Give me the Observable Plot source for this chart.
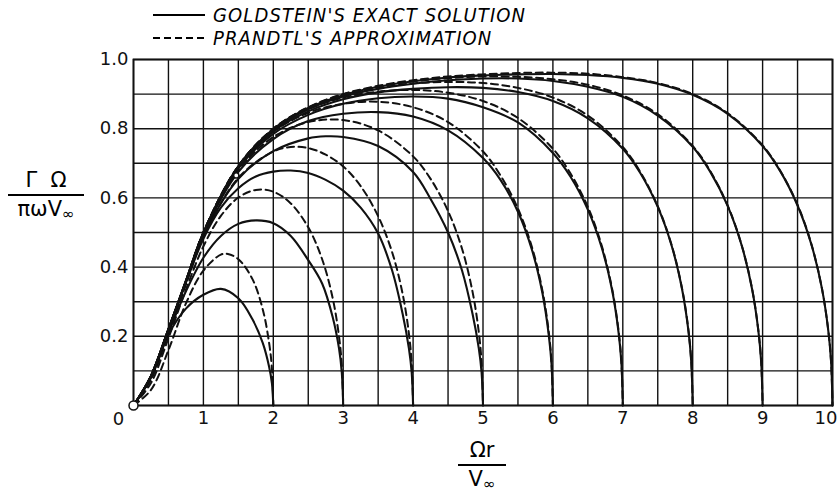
<!DOCTYPE html>
<html>
<head>
<meta charset="utf-8">
<script src="https://cdn.jsdelivr.net/npm/d3@7"></script>
<script src="https://cdn.jsdelivr.net/npm/@observablehq/plot@0.6"></script>
<style>
  html, body { margin: 0; padding: 0; background: #fff; }
  #fig { position: relative; width: 838px; height: 492px; overflow: hidden; font-family: "DejaVu Sans", "Liberation Sans", sans-serif; color: #000; background: #fff; }
  #chart { position: absolute; left: 0; top: 36px; }
  #legend { position: absolute; left: 0; top: 0; width: 838px; height: 50px; z-index: 2; }
  .key { position: absolute; left: 153px; height: 22px; display: flex; align-items: center; }
  .key span { margin-left: 8px; font-family: "Liberation Sans Narrow", "DejaVu Sans Condensed", sans-serif; font-style: italic; font-size: 20px; letter-spacing: 1.1px; }
  .frac { position: absolute; text-align: center; font-size: 21px; line-height: 1; z-index: 2; }
  .frac .num { display: block; padding-bottom: 3px; border-bottom: 2px solid #000; }
  .frac .den { display: block; padding-top: 3px; }
  .frac sub { font-size: 15px; vertical-align: -3px; }
</style>
</head>
<body>
<div id="fig">
  <div id="chart"></div>
  <div id="legend">
    <div class="key" style="top:4px">
      <svg width="52" height="6"><line x1="0" y1="3" x2="52" y2="3" stroke="#000" stroke-width="2.2"/></svg>
      <span>GOLDSTEIN'S EXACT SOLUTION</span>
    </div>
    <div class="key" style="top:27px">
      <svg width="52" height="6"><line x1="0" y1="3" x2="52" y2="3" stroke="#000" stroke-width="2" stroke-dasharray="7,4"/></svg>
      <span>PRANDTL'S APPROXIMATION</span>
    </div>
  </div>
  <div class="frac" style="left:8px; top:170px; width:76px;">
    <span class="num">Γ&nbsp;&nbsp;Ω</span>
    <span class="den">πωV<sub>∞</sub></span>
  </div>
  <div class="frac" style="left:458px; top:440px; width:48px;">
    <span class="num">Ωr</span>
    <span class="den">V<sub>∞</sub></span>
  </div>
</div>
<script>
// Tip speed ratios ΩR/V∞ of the curves
const tipRatios = [2, 3, 4, 5, 6, 7, 8, 9, 10];

// Goldstein's exact circulation, [Ωr/V∞, ΓΩ/(πωV∞)]
const goldstein2 = [[0,0],[0.25,0.082],[0.5,0.205],[0.75,0.28],[1,0.32],[1.25,0.337],[1.5,0.31],[1.7,0.25],[1.85,0.18],[1.94,0.112],[1.98,0.065],[2,0]];
const goldstein3 = [[0,0],[0.25,0.08],[0.5,0.21],[0.75,0.33],[1,0.427],[1.25,0.49],[1.5,0.525],[1.75,0.535],[2,0.527],[2.25,0.49],[2.5,0.42],[2.7,0.352],[2.85,0.255],[2.94,0.165],[2.98,0.095],[3,0]];
const goldstein4 = [[0,0],[0.25,0.085],[0.5,0.22],[0.75,0.355],[1,0.482],[1.25,0.572],[1.5,0.628],[1.75,0.662],[2,0.676],[2.25,0.679],[2.5,0.672],[2.75,0.652],[3,0.621],[3.25,0.572],[3.5,0.497],[3.7,0.39],[3.85,0.265],[3.94,0.165],[3.98,0.095],[4,0]];
const goldstein5 = [[0,0],[0.25,0.085],[0.5,0.22],[0.75,0.357],[1,0.49],[1.5,0.655],[2,0.735],[2.5,0.772],[2.75,0.778],[3,0.776],[3.5,0.75],[4,0.675],[4.25,0.597],[4.5,0.5],[4.7,0.39],[4.85,0.265],[4.94,0.165],[4.98,0.095],[5,0]];
const goldstein6 = [[0,0],[0.25,0.085],[0.5,0.22],[0.75,0.358],[1,0.495],[1.5,0.675],[2,0.77],[2.5,0.822],[3,0.843],[3.5,0.848],[4,0.835],[4.5,0.795],[5,0.715],[5.25,0.652],[5.5,0.56],[5.7,0.45],[5.85,0.325],[5.94,0.205],[5.98,0.12],[6,0]];
const goldstein7 = [[0,0],[0.25,0.085],[0.5,0.22],[0.75,0.359],[1,0.497],[1.5,0.685],[2,0.785],[2.5,0.84],[3,0.872],[3.5,0.888],[4,0.893],[4.5,0.887],[5,0.862],[5.5,0.818],[6,0.73],[6.25,0.662],[6.5,0.566],[6.7,0.455],[6.85,0.33],[6.94,0.21],[6.98,0.123],[7,0]];
const goldstein8 = [[0,0],[0.25,0.085],[0.5,0.22],[0.75,0.36],[1,0.498],[1.5,0.688],[2,0.792],[2.5,0.85],[3,0.885],[3.5,0.905],[4,0.915],[4.5,0.92],[5,0.918],[5.5,0.906],[6,0.88],[6.5,0.83],[7,0.742],[7.25,0.672],[7.5,0.574],[7.7,0.461],[7.85,0.334],[7.94,0.214],[7.98,0.124],[8,0]];
const goldstein9 = [[0,0],[0.25,0.085],[0.5,0.22],[0.75,0.36],[1,0.499],[1.5,0.69],[2,0.796],[2.5,0.856],[3,0.893],[3.5,0.915],[4,0.93],[4.5,0.94],[5,0.945],[5.5,0.945],[6,0.938],[6.5,0.921],[7,0.892],[7.5,0.838],[8,0.748],[8.25,0.676],[8.5,0.577],[8.7,0.463],[8.85,0.336],[8.94,0.215],[8.98,0.125],[9,0]];
const goldstein10 = [[0,0],[0.25,0.085],[0.5,0.22],[0.75,0.36],[1,0.5],[1.5,0.692],[2,0.799],[2.5,0.86],[3,0.897],[3.5,0.921],[4,0.937],[4.5,0.948],[5,0.954],[5.5,0.957],[6,0.958],[6.5,0.955],[7,0.947],[7.5,0.93],[8,0.898],[8.5,0.843],[9,0.75],[9.25,0.678],[9.5,0.578],[9.7,0.464],[9.85,0.337],[9.94,0.216],[9.98,0.126],[10,0]];

// Prandtl's tip-loss approximation, same axes
const prandtl2 = [[0,0],[0.25,0.045],[0.5,0.16],[0.75,0.295],[1,0.39],[1.25,0.436],[1.35,0.438],[1.5,0.423],[1.7,0.366],[1.85,0.277],[1.94,0.181],[1.98,0.107],[2,0]];
const prandtl3 = [[0,0],[0.25,0.065],[0.5,0.195],[0.75,0.335],[1,0.46],[1.25,0.548],[1.5,0.601],[1.75,0.623],[2,0.618],[2.25,0.584],[2.5,0.515],[2.7,0.422],[2.85,0.31],[2.94,0.2],[2.98,0.117],[3,0]];
const prandtl4 = [[0,0],[0.25,0.075],[0.5,0.21],[0.75,0.35],[1,0.486],[1.5,0.658],[2,0.734],[2.25,0.747],[2.5,0.744],[2.75,0.725],[3,0.691],[3.25,0.634],[3.5,0.547],[3.7,0.443],[3.85,0.323],[3.94,0.208],[3.98,0.121],[4,0]];
const prandtl5 = [[0,0],[0.25,0.08],[0.5,0.215],[0.75,0.355],[1,0.495],[1.5,0.68],[2,0.776],[2.5,0.819],[3,0.825],[3.5,0.795],[4,0.72],[4.25,0.655],[4.5,0.562],[4.7,0.453],[4.85,0.329],[4.94,0.212],[4.98,0.123],[5,0]];
const prandtl6 = [[0,0],[0.25,0.08],[0.5,0.215],[0.75,0.357],[1,0.498],[1.5,0.687],[2,0.791],[2.5,0.846],[3,0.872],[3.5,0.878],[4,0.862],[4.5,0.819],[5,0.734],[5.25,0.665],[5.5,0.569],[5.7,0.458],[5.85,0.332],[5.94,0.214],[5.98,0.124],[6,0]];
const prandtl7 = [[0,0],[0.25,0.08],[0.5,0.215],[0.75,0.358],[1,0.499],[1.5,0.691],[2,0.797],[2.5,0.856],[3,0.89],[3.5,0.907],[4,0.912],[4.5,0.904],[5,0.88],[5.5,0.831],[6,0.742],[6.25,0.671],[6.5,0.574],[6.7,0.461],[6.85,0.334],[6.94,0.215],[6.98,0.125],[7,0]];
const prandtl8 = [[0,0],[0.25,0.08],[0.5,0.215],[0.75,0.358],[1,0.5],[1.5,0.692],[2,0.799],[2.5,0.86],[3,0.896],[3.5,0.917],[4,0.931],[4.5,0.935],[5,0.932],[5.5,0.918],[6,0.89],[6.5,0.838],[7,0.747],[7.25,0.675],[7.5,0.576],[7.7,0.463],[7.85,0.336],[7.94,0.216],[7.98,0.125],[8,0]];
const prandtl9 = [[0,0],[0.25,0.08],[0.5,0.215],[0.75,0.358],[1,0.5],[1.5,0.692],[2,0.8],[2.5,0.861],[3,0.899],[3.5,0.922],[4,0.937],[4.5,0.946],[5,0.951],[5.5,0.95],[6,0.943],[6.5,0.927],[7,0.896],[7.5,0.842],[8,0.75],[8.25,0.678],[8.5,0.578],[8.7,0.464],[8.85,0.337],[8.94,0.216],[8.98,0.126],[9,0]];
const prandtl10 = [[0,0],[0.25,0.08],[0.5,0.215],[0.75,0.358],[1,0.5],[1.5,0.692],[2,0.8],[2.5,0.862],[3,0.9],[3.5,0.924],[4,0.94],[4.5,0.951],[5,0.957],[5.5,0.961],[6,0.962],[6.5,0.959],[7,0.949],[7.5,0.932],[8,0.9],[8.5,0.845],[9,0.752],[9.25,0.679],[9.5,0.58],[9.7,0.465],[9.85,0.337],[9.94,0.217],[9.98,0.126],[10,0]];

// Open circles: the origin and the junction point on the common branch
const openPoints = [[0, 0, 4.5], [1.47, 0.665, 2.6]];

// Axis ticks
const xTickValues = [1, 2, 3, 4, 5, 6, 7, 8, 9, 10];
const yTickValues = [0.2, 0.4, 0.6, 0.8, 1.0];
const originLabel = ["0"];

const goldsteinSets = [goldstein2, goldstein3, goldstein4, goldstein5, goldstein6, goldstein7, goldstein8, goldstein9, goldstein10];
const prandtlSets = [prandtl2, prandtl3, prandtl4, prandtl5, prandtl6, prandtl7, prandtl8, prandtl9, prandtl10];

const toRows = (sets) => sets.flatMap((pts, i) => pts.map(([x, y]) => ({tip: tipRatios[i], x, y})));
const goldsteinRows = toRows(goldsteinSets);
const prandtlRows = toRows(prandtlSets);

const ink = "#111";
const tickFont = 18;

const chart = Plot.plot({
  width: 838,
  height: 456,
  marginLeft: 133,
  marginRight: 6,
  marginTop: 23,
  marginBottom: 87,
  style: {fontFamily: '"DejaVu Sans", "Liberation Sans", sans-serif', fontSize: "18px", color: ink, background: "transparent", overflow: "visible"},
  x: {domain: [0, 10], label: null},
  y: {domain: [0, 1], label: null},
  marks: [
    Plot.gridX({interval: 0.5, stroke: ink, strokeOpacity: 1, strokeWidth: 1.4}),
    Plot.gridY({interval: 0.1, stroke: ink, strokeOpacity: 1, strokeWidth: 1.4}),
    Plot.frame({stroke: ink, strokeWidth: 1.8}),
    Plot.line(prandtlRows, {x: "x", y: "y", z: "tip", curve: "catmull-rom", stroke: ink, strokeWidth: 2, strokeDasharray: "7,4.5"}),
    Plot.line(goldsteinRows, {x: "x", y: "y", z: "tip", curve: "catmull-rom", stroke: ink, strokeWidth: 2.1}),
    Plot.dot(openPoints, {x: d => d[0], y: d => d[1], r: d => d[2], fill: "#fff", stroke: ink, strokeWidth: 1.5}),
    // the last tick sits on the right edge, so its label is anchored at its end
    Plot.axisX(xTickValues.slice(0, -1), {tickSize: 0, tickPadding: 6, fontSize: tickFont, label: null, tickFormat: d3.format("d")}),
    Plot.axisX(xTickValues.slice(-1), {tickSize: 0, tickPadding: 6, fontSize: tickFont, label: null, tickFormat: d3.format("d"), textAnchor: "end", dx: 5}),
    Plot.axisY({ticks: yTickValues, tickSize: 0, tickPadding: 5, fontSize: tickFont, label: null, tickFormat: d3.format(".1f")}),
    Plot.text(originLabel, {x: () => 0, y: () => 0, text: d => d, dx: -15, dy: 14, fontSize: tickFont})
  ]
});
// circle radii are given in pixels, not through a scale
chart.querySelectorAll("circle").forEach((c, i) => c.setAttribute("r", openPoints[i] ? openPoints[i][2] : c.getAttribute("r")));
document.getElementById("chart").appendChild(chart);
</script>
</body>
</html>
